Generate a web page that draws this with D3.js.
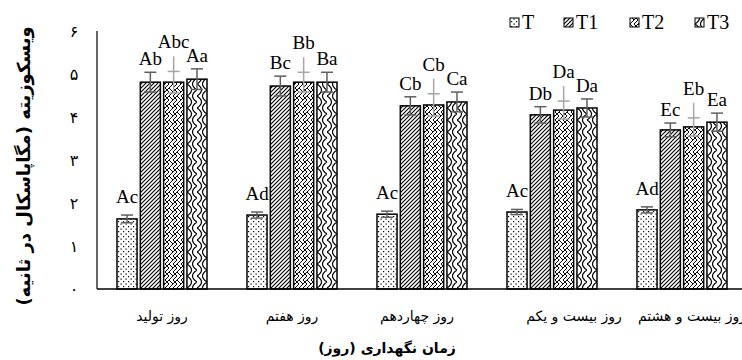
<!DOCTYPE html>
<html><head><meta charset="utf-8">
<script src="https://cdn.jsdelivr.net/npm/d3@7/dist/d3.min.js"></script>
<style>body{margin:0;background:#fff}svg{display:block}</style>
</head><body>
<svg id="c" width="742" height="360"></svg>
<script>
const categories = ["روز تولید","روز هفتم","روز چهاردهم","روز بیست و یکم","روز بیست و هشتم"];
const seriesNames = ["T","T1","T2","T3"];
const valT  = [1.63,1.72,1.74,1.79,1.84];
const valT1 = [4.81,4.72,4.26,4.05,3.70];
const valT2 = [4.81,4.81,4.28,4.16,3.77];
const valT3 = [4.88,4.81,4.35,4.21,3.88];
const errT  = [0.09,0.07,0.07,0.06,0.07];
const errT1 = [0.23,0.23,0.21,0.19,0.16];
const errT2 = [0.25,0.23,0.26,0.21,0.21];
const errT3 = [0.24,0.23,0.23,0.21,0.21];
const labT  = ["Ac","Ad","Ac","Ac","Ad"];
const labT1 = ["Ab","Bc","Cb","Db","Ec"];
const labT2 = ["Abc","Bb","Cb","Da","Eb"];
const labT3 = ["Aa","Ba","Ca","Da","Ea"];
const yTicks = [0,1,2,3,4,5,6];
const yTickLabels = ["٠","١","٢","٣","۴","۵","۶"];
const yTitle = "ویسکوزیته (مگاپاسکال در ثانیه)";
const xTitle = "زمان نگهداری (روز)";

const vals = [valT,valT1,valT2,valT3];
const errs = [errT,errT1,errT2,errT3];
const labs = [labT,labT1,labT2,labT3];

const svg = d3.select("#c");
const defs = svg.append("defs");

function pat(id,w,h,draw){
  const p = defs.append("pattern").attr("id",id).attr("patternUnits","userSpaceOnUse").attr("width",w).attr("height",h);
  p.append("rect").attr("width",w).attr("height",h).attr("fill","#fff");
  draw(p);
}
pat("pT",5,5,p=>{
  p.append("rect").attr("x",1).attr("y",1).attr("width",1.2).attr("height",1.2).attr("fill","#000");
  p.append("rect").attr("x",3.5).attr("y",3.5).attr("width",1.2).attr("height",1.2).attr("fill","#000");
});
pat("pT1",4,4,p=>{
  p.append("path").attr("d","M-1,5 L5,-1 M-1,1 L1,-1 M3,5 L5,3").attr("stroke","#000").attr("stroke-width",1.1);
});
pat("pT2",8,8,p=>{
  p.append("path").attr("d","M0,0 L4,4 L0,8 M4,0 L8,4 L4,8 M8,0 L4,4").attr("stroke","#000").attr("stroke-width",1).attr("fill","none");
});
pat("pT3",10,12,p=>{
  p.append("path").attr("d","M0,0 Q9,6 0,12 M10,6 Q1,12 10,18 M10,-6 Q1,0 10,6")
    .attr("stroke","#000").attr("stroke-width",1.2).attr("fill","none");
});

const x0 = d3.scaleBand().domain(categories).range([97,747]).paddingInner(0).paddingOuter(0);
const x1 = d3.scaleBand().domain(seriesNames).range([20,110]).paddingInner(0.14).paddingOuter(0);
const y = d3.scaleLinear().domain([0,6]).range([289,31]);

svg.append("line").attr("x1",97).attr("x2",97).attr("y1",y(6)).attr("y2",y(0)).attr("stroke","#000").attr("stroke-width",1.2);
svg.append("g").selectAll("text").data(yTicks).join("text")
  .attr("x",74).attr("y",d=>y(d)+6).attr("text-anchor","middle")
  .attr("font-family","DejaVu Sans").attr("font-size",16).text((d,i)=>yTickLabels[i]);

const groups = svg.append("g").selectAll("g").data(categories).join("g")
  .attr("transform",d=>`translate(${x0(d)},0)`);
seriesNames.forEach((s,si)=>{
  groups.append("rect")
    .attr("x",x1(s)).attr("width",x1.bandwidth())
    .attr("y",(d,i)=>y(vals[si][i])).attr("height",(d,i)=>y(0)-y(vals[si][i]))
    .attr("fill",`url(#p${s})`).attr("stroke","#000").attr("stroke-width",1.5);
});
seriesNames.forEach((s,si)=>{
  const cx = x1(s)+x1.bandwidth()/2;
  const col = si===2 ? "#a6a6a6" : "#5f5f5f";
  const lift = si===0 ? 12 : (si===2 ? 23 : 7);
  groups.each(function(d,i){
    const g = d3.select(this);
    const v = vals[si][i], e = errs[si][i];
    const yt = y(v+e), yb = y(v-e);
    const ytop = si===2 ? yt - lift + 8 : yt;
    g.append("line").attr("x1",cx).attr("x2",cx).attr("y1",ytop).attr("y2",yb).attr("stroke",col).attr("stroke-width",1.5);
    g.append("line").attr("x1",cx-6).attr("x2",cx+6).attr("y1",yt).attr("y2",yt).attr("stroke",col).attr("stroke-width",1.5);
    g.append("line").attr("x1",cx-6).attr("x2",cx+6).attr("y1",yb).attr("y2",yb).attr("stroke",col).attr("stroke-width",1.5);
    g.append("text").attr("x",cx).attr("y",yt-lift).attr("text-anchor","middle")
      .attr("font-family","Liberation Serif").attr("font-size",19).text(labs[si][i]);
  });
});

svg.append("line").attr("x1",97).attr("x2",742).attr("y1",y(0)).attr("y2",y(0)).attr("stroke","#000").attr("stroke-width",1.5);
const nudge = [0,0,-5,22,10];
svg.append("g").selectAll("text").data(categories).join("text")
  .attr("x",(d,i)=>x0(d)+x0.bandwidth()/2+nudge[i]).attr("y",321).attr("text-anchor","middle")
  .attr("direction","rtl")
  .attr("font-family","DejaVu Sans").attr("font-size",14).text(d=>d);

svg.append("text").attr("x",387).attr("y",353).attr("text-anchor","middle").attr("direction","rtl")
  .attr("font-family","DejaVu Sans").attr("font-weight","bold").attr("font-size",14).text(xTitle);
svg.append("text").attr("transform","translate(30,166) rotate(-90)").attr("text-anchor","middle").attr("direction","rtl")
  .attr("font-family","DejaVu Sans").attr("font-weight","bold").attr("font-size",18).text(yTitle);

const legX = [510,564,630,695];
const leg = svg.append("g").selectAll("g").data(seriesNames).join("g")
  .attr("transform",(d,i)=>`translate(${legX[i]},0)`);
leg.append("rect").attr("x",0).attr("y",18).attr("width",9).attr("height",9)
  .attr("fill",d=>`url(#p${d})`).attr("stroke","#000").attr("stroke-width",1);
leg.append("text").attr("x",12).attr("y",29).attr("font-family","Liberation Serif").attr("font-size",20).text(d=>d);
</script>
</body></html>
